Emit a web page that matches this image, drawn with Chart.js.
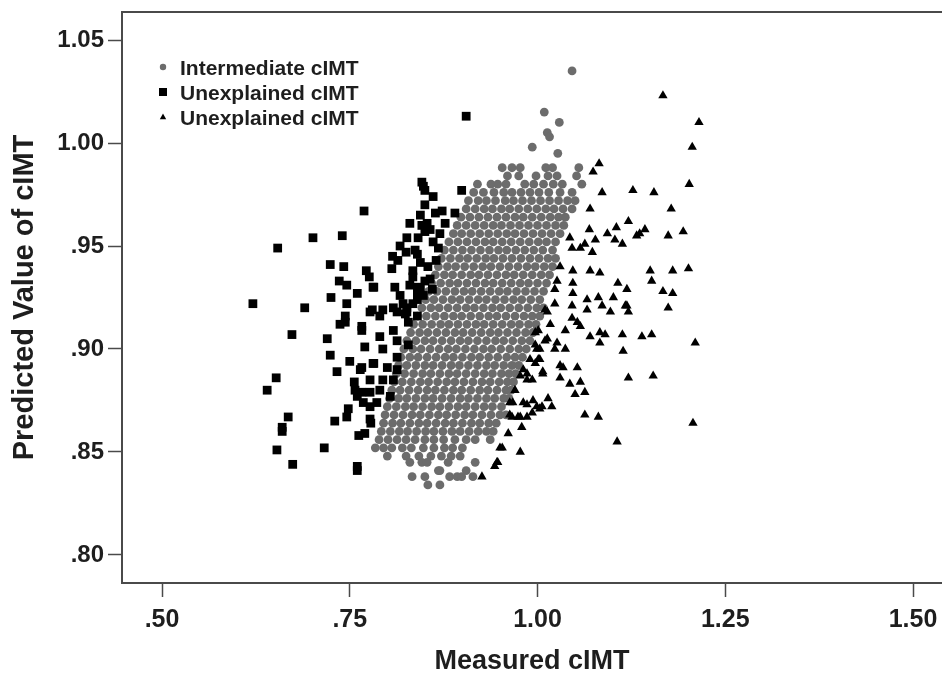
<!DOCTYPE html>
<html>
<head>
<meta charset="utf-8">
<script src="https://cdn.jsdelivr.net/npm/chart.js@4.4.1/dist/chart.umd.min.js"></script>
<style>
html,body{margin:0;padding:0;background:#ffffff;}
canvas{display:block;}
</style>
</head>
<body>
<canvas id="c" width="942" height="675"></canvas>
<script>
// ---------- chart values ----------
const seriesLabels = ['Intermediate cIMT', 'Unexplained cIMT', 'Unexplained cIMT'];
const xTitle = 'Measured cIMT';
const yTitle = 'Predicted Value of cIMT';
const xTickValues = [0.50, 0.75, 1.00, 1.25, 1.50];
const xTickLabels = ['.50', '.75', '1.00', '1.25', '1.50'];
const yTickValues = [0.80, 0.85, 0.90, 0.95, 1.00, 1.05];
const yTickLabels = ['.80', '.85', '.90', '.95', '1.00', '1.05'];

// Intermediate cIMT (grey circles): isolated top points
const intermediateTop = [
  [1.046,1.035],[1.009,1.015],[1.029,1.010],[1.013,1.005],[1.016,1.003],[0.993,0.998],[1.027,0.995]
];
// Intermediate cIMT: dense cloud, read row by row (predicted value, measured values)
const intermediateRowY = [0.988,0.984,0.980,0.976,0.972,0.968,0.964,0.960,0.956,0.952,0.948,0.944,0.940,0.936,0.932,0.928,0.924,0.920,0.916,0.912,0.908,0.904,0.900,0.896,0.892,0.888,0.884,0.880,0.876,0.872,0.868,0.864,0.860,0.856,0.852,0.848,0.845,0.841,0.838,0.834];
const intermediateRowX = [
  [0.953,0.966,0.977,1.011,1.020,1.055],
  [0.960,0.975,0.998,1.014,1.026,1.052],
  [0.920,0.938,0.947,0.958,0.983,0.995,1.008,1.021,1.033,1.059],
  [0.915,0.928,0.942,0.955,0.966,0.978,0.990,1.002,1.015,1.030,1.046],
  [0.908,0.921,0.932,0.944,0.957,0.968,0.980,0.992,1.004,1.016,1.028,1.040,1.050],
  [0.905,0.917,0.929,0.940,0.952,0.963,0.975,0.987,0.999,1.011,1.022,1.034,1.046],
  [0.898,0.910,0.922,0.934,0.946,0.958,0.970,0.981,0.993,1.005,1.017,1.028,1.037],
  [0.893,0.905,0.917,0.929,0.941,0.952,0.964,0.976,0.988,1.000,1.012,1.024,1.035],
  [0.888,0.899,0.911,0.923,0.935,0.947,0.959,0.970,0.982,0.994,1.006,1.018,1.030],
  [0.882,0.894,0.906,0.918,0.930,0.941,0.953,0.965,0.977,0.989,1.001,1.012,1.024],
  [0.876,0.888,0.900,0.912,0.924,0.936,0.948,0.959,0.971,0.983,0.995,1.007,1.020],
  [0.872,0.884,0.896,0.907,0.919,0.931,0.942,0.954,0.966,0.978,0.990,1.002,1.014,1.024],
  [0.868,0.880,0.891,0.903,0.915,0.927,0.938,0.950,0.962,0.974,0.986,0.997,1.009,1.020],
  [0.864,0.876,0.887,0.899,0.911,0.922,0.934,0.946,0.958,0.969,0.981,0.993,1.005,1.016],
  [0.859,0.871,0.883,0.894,0.906,0.918,0.930,0.941,0.953,0.965,0.977,0.988,1.000,1.012],
  [0.855,0.866,0.878,0.890,0.902,0.913,0.925,0.937,0.949,0.960,0.972,0.984,0.996,1.008],
  [0.851,0.862,0.874,0.886,0.897,0.909,0.921,0.932,0.944,0.956,0.968,0.979,0.991,1.003],
  [0.846,0.858,0.869,0.881,0.893,0.905,0.916,0.928,0.940,0.951,0.963,0.975,0.987,0.999,1.008],
  [0.840,0.852,0.864,0.876,0.888,0.899,0.911,0.923,0.935,0.946,0.958,0.970,0.982,0.993,1.003],
  [0.835,0.847,0.859,0.871,0.882,0.894,0.906,0.918,0.929,0.941,0.953,0.965,0.976,0.988,0.998],
  [0.831,0.843,0.854,0.866,0.878,0.890,0.901,0.913,0.925,0.937,0.948,0.960,0.972,0.984,0.994],
  [0.826,0.838,0.850,0.861,0.873,0.885,0.897,0.908,0.920,0.932,0.944,0.955,0.967,0.979,0.990],
  [0.822,0.834,0.845,0.857,0.869,0.881,0.892,0.904,0.916,0.928,0.939,0.951,0.963,0.975,0.985],
  [0.818,0.830,0.841,0.853,0.865,0.877,0.888,0.900,0.912,0.923,0.935,0.947,0.959,0.970,0.980],
  [0.815,0.826,0.838,0.850,0.861,0.873,0.885,0.896,0.908,0.920,0.932,0.943,0.955,0.966,0.975],
  [0.812,0.823,0.835,0.847,0.858,0.870,0.882,0.893,0.905,0.917,0.929,0.940,0.952,0.962,0.971],
  [0.809,0.820,0.832,0.844,0.855,0.867,0.879,0.890,0.902,0.914,0.926,0.937,0.949,0.960,0.968],
  [0.806,0.817,0.829,0.841,0.853,0.864,0.876,0.888,0.899,0.911,0.923,0.934,0.946,0.958,0.965],
  [0.803,0.815,0.826,0.838,0.850,0.861,0.873,0.885,0.897,0.908,0.920,0.932,0.943,0.955,0.962],
  [0.800,0.812,0.824,0.835,0.847,0.859,0.870,0.882,0.894,0.905,0.917,0.929,0.940,0.952],
  [0.797,0.809,0.821,0.833,0.844,0.856,0.868,0.879,0.891,0.903,0.914,0.926,0.938,0.950,0.958],
  [0.795,0.807,0.818,0.830,0.842,0.853,0.865,0.877,0.888,0.900,0.912,0.923,0.935,0.945],
  [0.792,0.804,0.816,0.827,0.839,0.851,0.862,0.874,0.886,0.897,0.909,0.921,0.932,0.941],
  [0.789,0.801,0.813,0.825,0.837,0.850,0.862,0.875,0.890,0.905,0.917,0.937],
  [0.784,0.795,0.806,0.820,0.832,0.848,0.862,0.876,0.887,0.900],
  [0.800,0.825,0.842,0.858,0.872,0.885,0.897],
  [0.830,0.846,0.853,0.881,0.917],
  [0.868,0.870,0.905],
  [0.833,0.850,0.883,0.893,0.899,0.914],
  [0.854,0.870]
];

// Unexplained cIMT, below prediction (black squares): [measured, predicted]
const unexplainedLow = [
  [0.905,1.013],[0.769,0.967],[0.654,0.949],[0.701,0.954],[0.740,0.955],[0.848,0.979],
  [0.724,0.941],[0.742,0.940],[0.772,0.938],[0.776,0.935],[0.782,0.930],[0.736,0.933],
  [0.746,0.931],[0.760,0.927],[0.725,0.925],[0.746,0.922],[0.621,0.922],[0.690,0.920],
  [0.807,0.945],[0.806,0.939],[0.826,0.954],[0.825,0.947],[0.834,0.938],[0.834,0.935],
  [0.810,0.930],[0.841,0.954],[0.840,0.946],[0.744,0.916],[0.766,0.911],[0.780,0.919],
  [0.794,0.919],[0.808,0.920],[0.821,0.922],[0.840,0.927],[0.846,0.960],[0.850,0.957],
  [0.846,0.981],[0.850,0.977],[0.861,0.974],[0.873,0.967],[0.890,0.966],[0.864,0.966],
  [0.853,0.961],[0.857,0.958],[0.861,0.952],[0.837,0.948],[0.868,0.949],[0.854,0.940],
  [0.857,0.934],[0.844,0.929],[0.840,0.924],[0.826,0.920],[0.824,0.917],[0.899,0.977],
  [0.877,0.961],[0.870,0.956],[0.850,0.970],[0.844,0.965],[0.830,0.961],[0.817,0.950],
  [0.814,0.943],[0.844,0.942],[0.850,0.933],[0.830,0.931],[0.817,0.926],[0.865,0.943],
  [0.860,0.929],[0.781,0.930],[0.840,0.930],[0.848,0.926],[0.834,0.922],[0.777,0.918],
  [0.790,0.916],[0.813,0.918],[0.826,0.918],[0.840,0.916],[0.828,0.913],[0.808,0.909],
  [0.766,0.909],[0.790,0.906],[0.813,0.904],[0.828,0.902],[0.770,0.901],[0.794,0.900],
  [0.813,0.896],[0.781,0.893],[0.800,0.891],[0.813,0.890],[0.766,0.891],[0.777,0.885],
  [0.794,0.885],[0.808,0.885],[0.766,0.879],[0.790,0.880],[0.804,0.877],[0.786,0.874],
  [0.777,0.866],[0.673,0.907],[0.720,0.905],[0.737,0.912],[0.744,0.913],[0.724,0.897],
  [0.750,0.894],[0.733,0.889],[0.764,0.890],[0.782,0.893],[0.652,0.886],[0.640,0.880],
  [0.756,0.884],[0.757,0.880],[0.760,0.877],[0.777,0.879],[0.768,0.874],[0.777,0.872],
  [0.748,0.871],[0.746,0.867],[0.730,0.865],[0.668,0.867],[0.660,0.862],[0.660,0.860],
  [0.778,0.864],[0.770,0.859],[0.762,0.858],[0.653,0.851],[0.716,0.852],[0.674,0.844],
  [0.760,0.843],[0.760,0.841]
];

// Unexplained cIMT, above prediction (black triangles): [measured, predicted]
const unexplainedHigh = [
  [1.167,1.023],[1.215,1.010],[1.206,0.998],[1.202,0.980],[1.082,0.990],[1.074,0.986],
  [1.086,0.976],[1.127,0.977],[1.155,0.976],[1.178,0.968],[1.070,0.968],[1.121,0.962],
  [1.105,0.959],[1.093,0.956],[1.103,0.953],[1.113,0.951],[1.136,0.956],[1.143,0.958],
  [1.132,0.955],[1.174,0.955],[1.194,0.957],[1.069,0.958],[1.077,0.953],[1.043,0.954],
  [1.057,0.949],[1.063,0.951],[1.073,0.947],[1.046,0.949],[1.150,0.938],[1.180,0.938],
  [1.201,0.939],[1.152,0.933],[1.107,0.932],[1.119,0.929],[1.070,0.938],[1.083,0.937],
  [1.047,0.938],[1.030,0.940],[1.026,0.933],[1.047,0.932],[1.047,0.927],[1.023,0.929],
  [1.066,0.924],[1.081,0.925],[1.101,0.925],[1.119,0.921],[1.167,0.928],[1.180,0.927],
  [1.174,0.920],[1.023,0.922],[1.046,0.921],[1.086,0.921],[1.097,0.918],[1.117,0.921],
  [1.121,0.918],[1.010,0.919],[1.017,0.912],[1.046,0.915],[1.053,0.913],[1.057,0.911],
  [1.066,0.919],[1.037,0.909],[1.070,0.906],[1.083,0.908],[1.090,0.907],[1.083,0.903],
  [1.113,0.907],[1.139,0.906],[1.152,0.907],[1.210,0.903],[1.114,0.899],[0.997,0.908],
  [1.010,0.904],[1.026,0.903],[1.037,0.900],[1.023,0.900],[0.999,0.900],[1.001,0.895],
  [1.030,0.892],[1.034,0.891],[1.053,0.891],[1.007,0.889],[0.981,0.890],[0.977,0.887],
  [0.986,0.885],[1.030,0.886],[1.043,0.883],[1.057,0.884],[1.050,0.878],[1.063,0.879],
  [1.121,0.886],[1.154,0.887],[1.014,0.876],[1.019,0.872],[1.006,0.872],[0.994,0.875],
  [0.981,0.874],[0.967,0.874],[0.966,0.867],[0.977,0.867],[0.986,0.867],[0.979,0.862],
  [1.063,0.868],[1.081,0.867],[1.207,0.864],[0.961,0.859],[0.953,0.852],[0.977,0.850],
  [1.106,0.855],[0.947,0.845],[0.943,0.843],[0.926,0.838],[1.013,0.918],[1.001,0.909],
  [1.013,0.905],[0.997,0.902],[1.003,0.900],[0.990,0.895],[0.997,0.893],[1.003,0.895],
  [0.986,0.888],[0.993,0.885],[1.007,0.888],[0.970,0.880],[0.986,0.873],[1.003,0.871],
  [0.963,0.868],[0.974,0.867],[0.950,0.852],[0.946,0.845],[0.963,0.874],[0.993,0.869],
  [0.999,0.872]
];

// ---------- build datasets ----------
const toPts = arr => arr.map(p => ({x: p[0], y: p[1]}));
const greyPts = toPts(intermediateTop);
intermediateRowY.forEach((yv, r) => {
  intermediateRowX[r].forEach(xv => greyPts.push({x: xv, y: yv}));
});

const FONT = "'Liberation Sans', Arial, Helvetica, sans-serif";
const AXIS = '#4a4a4a';
const TEXT = '#1e1e1e';
const GREY = 'rgb(108,108,108)';

const legendPlugin = {
  id: 'insideLegend',
  afterDraw(chart) {
    const ctx = chart.ctx, ca = chart.chartArea;
    const mx = ca.left + 41, tx = ca.left + 58;
    const rows = [ca.top + 55, ca.top + 80, ca.top + 105];
    ctx.save();
    ctx.font = "bold 21px " + FONT;
    ctx.textBaseline = 'alphabetic';
    ctx.textAlign = 'left';
    rows.forEach((cy, i) => {
      const ds = chart.data.datasets[i];
      ctx.fillStyle = ds.backgroundColor;
      ctx.beginPath();
      if (ds.pointStyle === 'circle') {
        ctx.arc(mx, cy, 3.2, 0, Math.PI * 2);
      } else if (ds.pointStyle === 'rect') {
        ctx.rect(mx - 4, cy - 4, 8, 8);
      } else {
        ctx.moveTo(mx, cy - 3.6);
        ctx.lineTo(mx + 3.2, cy + 2.2);
        ctx.lineTo(mx - 3.2, cy + 2.2);
        ctx.closePath();
      }
      ctx.fill();
      ctx.fillStyle = TEXT;
      ctx.fillText(ds.label, tx, cy + 7.5);
    });
    ctx.restore();
  }
};

const framePlugin = {
  id: 'topFrame',
  afterDraw(chart) {
    const ctx = chart.ctx, ca = chart.chartArea;
    ctx.save();
    ctx.strokeStyle = AXIS;
    ctx.lineWidth = 2;
    ctx.beginPath();
    ctx.moveTo(ca.left - 1, ca.top);
    ctx.lineTo(ca.right, ca.top);
    ctx.stroke();
    ctx.restore();
  }
};

new Chart(document.getElementById('c'), {
  type: 'scatter',
  data: {
    datasets: [
      {label: seriesLabels[0], data: greyPts, pointStyle: 'circle', pointRadius: 4.4,
       backgroundColor: GREY, borderWidth: 0, order: 3},
      {label: seriesLabels[1], data: toPts(unexplainedLow), pointStyle: 'rect', pointRadius: 6.2,
       backgroundColor: '#000000', borderWidth: 0, order: 2},
      {label: seriesLabels[2], data: toPts(unexplainedHigh), pointStyle: 'triangle', pointRadius: 5.4,
       backgroundColor: '#000000', borderWidth: 0, order: 1}
    ]
  },
  options: {
    responsive: false,
    animation: false,
    events: [],
    devicePixelRatio: 1,
    layout: {autoPadding: false, padding: {top: 12, right: 0, left: 0, bottom: 0}},
    plugins: {legend: {display: false}, tooltip: {enabled: false}},
    elements: {point: {hoverRadius: 0}},
    scales: {
      x: {
        type: 'linear', min: 0.4467, max: 1.5386,
        afterBuildTicks: s => { s.ticks = xTickValues.map(v => ({value: v})); },
        afterFit: s => { s.height = 92; s.paddingLeft = 0; s.paddingRight = 0; },
        ticks: {
          callback: (v, i) => xTickLabels[i],
          font: {family: FONT, size: 25, weight: 'bold'}, color: TEXT,
          padding: 8, maxRotation: 0, autoSkip: false
        },
        grid: {display: true, drawOnChartArea: false, drawTicks: true, tickLength: 14,
               tickColor: AXIS, tickWidth: 1.5, color: AXIS},
        border: {display: true, color: AXIS, width: 2},
        title: {display: true, text: xTitle, color: TEXT,
                font: {family: FONT, size: 27, weight: 'bold', lineHeight: 1},
                padding: {top: 0, bottom: 0}}
      },
      y: {
        type: 'linear', min: 0.7864, max: 1.0636,
        afterBuildTicks: s => { s.ticks = yTickValues.map(v => ({value: v})); },
        afterFit: s => { s.width = 122; s.paddingTop = 0; s.paddingBottom = 0; },
        ticks: {
          callback: (v, i) => yTickLabels[i],
          font: {family: FONT, size: 24, weight: 'bold'}, color: TEXT,
          padding: 4, autoSkip: false
        },
        grid: {display: true, drawOnChartArea: false, drawTicks: true, tickLength: 14,
               tickColor: AXIS, tickWidth: 1.5, color: AXIS},
        border: {display: true, color: AXIS, width: 2},
        title: {display: true, text: yTitle, color: TEXT,
                font: {family: FONT, size: 29, weight: 'bold', lineHeight: 1},
                padding: {top: 10, bottom: 0}}
      }
    }
  },
  plugins: [legendPlugin, framePlugin]
});
</script>
</body>
</html>
